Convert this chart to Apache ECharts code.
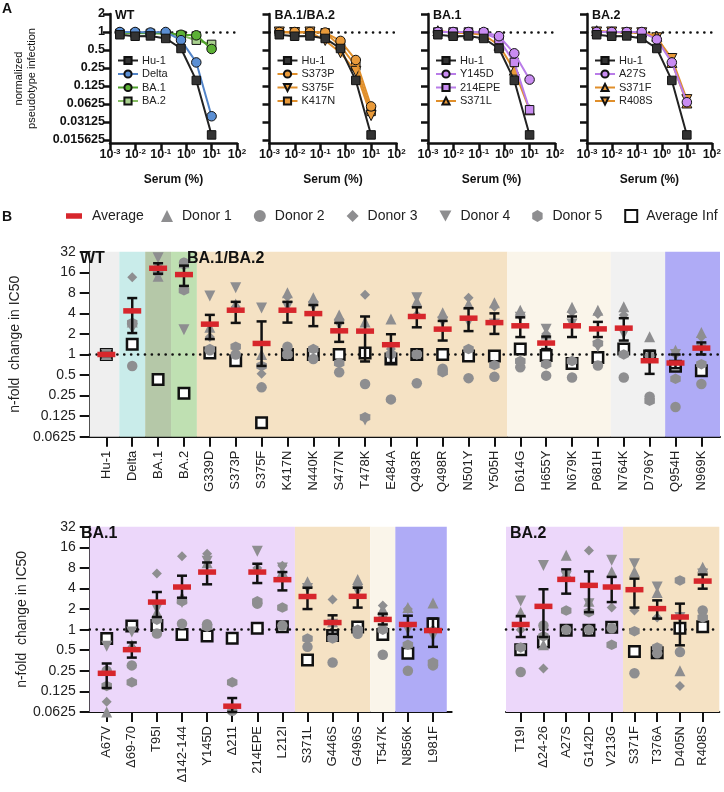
<!DOCTYPE html>
<html><head><meta charset="utf-8">
<script src="https://cdn.jsdelivr.net/npm/echarts@6/dist/echarts.min.js"></script>
<style>html,body{margin:0;padding:0;background:#fff}#c{width:724px;height:792px}</style>
</head><body><div id="c"></div>
<script>
// ---------------- Panel A data ----------------
const serum = [0.00244, 0.00977, 0.0391, 0.156, 0.625, 2.5, 10];
const aTicksX = [0.001, 0.01, 0.1, 1, 10, 100];
const aTicksY = [0.015625, 0.03125, 0.0625, 0.125, 0.25, 0.5, 1, 2];
const hu1    = [0.90, 0.85, 0.86, 0.78, 0.53, 0.155, 0.019];
const delta  = [1.00, 1.00, 0.98, 1.00, 0.73, 0.31, 0.039];
const ba1    = [0.98, 0.97, 0.96, 0.96, 0.90, 0.88, 0.52];
const ba2    = [0.95, 0.95, 0.95, 0.93, 0.88, 0.73, 0.62];
const s373p  = [1.00, 1.00, 1.00, 0.98, 0.71, 0.34, 0.057];
const s375f  = [1.00, 0.98, 1.00, 0.72, 0.45, 0.22, 0.040];
const k417n  = [1.00, 0.97, 1.00, 0.97, 0.58, 0.27, 0.047];
const y145d  = [1.00, 1.00, 1.00, 1.00, 0.85, 0.44, 0.16];
const epe214 = [1.00, 1.00, 1.00, 0.97, 0.75, 0.31, 0.050];
const s371l  = [1.05, 0.97, 0.95, 0.90, 0.60, 0.23, 0.050];
const a27s   = [1.00, 1.00, 1.00, 1.00, 0.75, 0.31, 0.067];
const s371f  = [1.05, 1.00, 1.00, 1.00, 0.85, 0.31, 0.065];
const r408s  = [1.00, 1.00, 0.97, 0.97, 0.80, 0.36, 0.074];
const aTitles = ['WT', 'BA.1/BA.2', 'BA.1', 'BA.2'];
const aNames = [['Hu-1','Delta','BA.1','BA.2'], ['Hu-1','S373P','S375F','K417N'], ['Hu-1','Y145D','214EPE','S371L'], ['Hu-1','A27S','S371F','R408S']];
const aValues = [[hu1, delta, ba1, ba2], [hu1, s373p, s375f, k417n], [hu1, y145d, epe214, s371l], [hu1, a27s, s371f, r408s]];

// ---------------- Panel B data ----------------
const bTicksY = [0.0625, 0.125, 0.25, 0.5, 1, 2, 4, 8, 16, 32];
const catsTop = ['Hu-1','Delta','BA.1','BA.2','G339D','S373P','S375F','K417N','N440K','S477N','T478K','E484A','Q493R','Q498R','N501Y','Y505H','D614G','H655Y','N679K','P681H','N764K','D796Y','Q954H','N969K'];
const avgTop   = [1, 4.35, 18.3, 14.8, 2.78, 4.45, 1.45, 4.45, 3.97, 2.22, 2.2, 1.39, 3.6, 2.35, 3.4, 2.93, 2.63, 1.47, 2.63, 2.37, 2.43, 0.81, 0.75, 1.24];
const errLoTop = [0.95, 2.06, 15.2, 10.1, 1.68, 2.9, 0.68, 2.93, 2.6, 1.53, 0.79, 0.75, 2.5, 1.6, 2.2, 2.0, 1.8, 1.2, 1.8, 1.8, 1.6, 0.52, 0.63, 1.0];
const errHiTop = [1.05, 6.7, 21.7, 20, 3.8, 5.9, 3.05, 5.9, 5.3, 2.9, 3.6, 1.98, 4.9, 3.1, 4.76, 4.0, 3.5, 1.83, 3.6, 3.0, 3.4, 1.13, 1.0, 1.5];
const donor1Top = [1, 3.0, 14, 22, 2.5, 5.5, 1.0, 8.0, 6.8, 3.8, 3.0, 3.3, 6.0, 4.1, 5.5, 5.7, 4.45, 2.0, 4.9, 4.45, 5.0, 1.82, 1.15, 2.1];
const donor2Top = [1, 0.68, 18, 22, 1.15, 1.0, 0.33, 1.3, 0.86, 0.55, 0.37, 0.22, 0.38, 0.62, 0.45, 0.47, 0.65, 0.49, 0.46, 0.69, 0.46, 0.24, 0.17, 0.37];
const donor3Top = [1, 13.5, 17, 20, 1.8, 5.0, 0.52, 7.0, 6.0, 3.3, 7.5, 1.2, 3.8, 3.5, 6.8, 5.0, 3.8, 2.0, 4.2, 3.9, 3.8, 1.0, 1.0, 1.8];
const donor4Top = [1, 2.4, 26, 2.3, 7.2, 9.5, 4.8, 5.0, 5.0, 2.7, 0.11, 1.2, 6.8, 3.0, 3.0, 2.8, 3.5, 2.35, 2.8, 1.3, 2.0, 0.8, 1.0, 1.2];
const donor5Top = [1, 2.9, 16, 8.7, 1.2, 1.3, 0.68, 1.0, 1.2, 0.75, 0.12, 1.0, 1.0, 0.55, 1.2, 0.7, 0.8, 0.72, 0.8, 1.45, 1.0, 0.21, 0.44, 0.72];
const infTop    = [1, 1.41, 0.43, 0.27, 1.05, 0.81, 0.1, 1.0, 1.0, 1.0, 1.05, 0.86, 1.0, 1.0, 0.95, 0.95, 1.2, 0.97, 0.74, 0.9, 1.2, 0.95, 0.67, 0.58];

const catsBL = ['A67V','\u039469-70','T95I','\u0394142-144','Y145D','\u0394211','214EPE','L212I','S371L','G446S','G496S','T547K','N856K','L981F'];
const avgBL   = [0.23, 0.51, 2.53, 4.2, 6.95, 0.076, 6.95, 5.38, 3.05, 1.27, 3.07, 1.41, 1.19, 0.97];
const errLoBL = [0.14, 0.39, 1.53, 2.93, 4.6, 0.0625, 4.8, 3.75, 2.0, 0.87, 2.1, 1.19, 0.78, 0.56];
const errHiBL = [0.32, 0.65, 3.55, 6.15, 9.6, 0.1, 9.2, 6.95, 4.1, 1.62, 4.1, 1.71, 1.6, 1.45];
const donor1BL = [0.0625, 0.6, 1.8, 3.0, 9.5, 0.055, 8.0, 7.0, 5.0, 1.3, 5.4, 2.0, 2.1, 2.45];
const donor2BL = [0.25, 0.3, 0.88, 1.22, 1.2, 0.065, 2.4, 1.15, 0.56, 0.33, 0.87, 0.43, 0.25, 0.3];
const donor3BL = [0.088, 0.55, 6.6, 11.8, 12.9, 0.05, 8.0, 8.6, 4.5, 2.75, 4.5, 2.26, 2.0, 1.0];
const donor4BL = [0.57, 0.92, 2.0, 2.5, 10, 0.05, 14, 8.0, 4.0, 1.2, 3.6, 1.4, 1.0, 0.8];
const donor5BL = [0.15, 0.17, 1.4, 2.6, 1.1, 0.17, 2.6, 2.1, 0.74, 0.74, 1.0, 1.0, 0.6, 0.33];
const infBL    = [0.74, 1.13, 1.15, 0.85, 0.81, 0.75, 1.05, 1.1, 0.36, 0.82, 1.09, 0.85, 0.45, 1.22];

const catsBR = ['T19I','\u039424-26','A27S','G142D','V213G','S371F','T376A','D405N','R408S'];
const avgBR   = [1.19, 2.19, 5.43, 4.44, 4.2, 3.84, 2.03, 1.53, 5.13];
const errLoBR = [0.78, 0.78, 3.36, 1.8, 2.53, 2.1, 1.45, 0.59, 3.97];
const errHiBR = [1.58, 3.9, 7.6, 7.1, 5.9, 5.57, 2.68, 2.4, 6.4];
const donor1BR = [1.8, 0.6, 12.2, 2.6, 7.0, 7.0, 3.5, 0.25, 8.2];
const donor2BR = [0.24, 1.15, 1.0, 1.0, 1.05, 0.23, 0.45, 0.47, 1.9];
const donor3BR = [1.0, 0.27, 6.0, 14.4, 2.1, 1.9, 1.5, 0.15, 7.5];
const donor4BR = [2.62, 8.7, 6.0, 2.4, 10.3, 9.2, 4.2, 1.5, 6.5];
const donor5BR = [0.55, 0.8, 1.9, 1.8, 0.6, 0.95, 0.55, 5.25, 1.5];
const infBR    = [0.51, 0.66, 0.98, 0.98, 1.08, 0.48, 0.46, 1.05, 1.1];

// background groups: [from, to] in category-index units
const groupsTop = [[-0.643, 0.5], [0.5, 1.5], [1.5, 2.5], [2.5, 3.5], [3.5, 15.5], [15.5, 19.5], [19.5, 21.6], [21.6, 23.72]];
const groupsBL  = [[-0.677, 7.5], [7.5, 10.5], [10.5, 11.5], [11.5, 13.55]];
const groupsBR  = [[-0.646, 4.5], [4.5, 8.73]];
const donorNames = ['Donor 1','Donor 2','Donor 3','Donor 4','Donor 5'];

// ---------------- styling ----------------
const FONT = '"Liberation Sans", Arial, Helvetica, sans-serif';
const INK = '#111';
const DOWN = 'path://M0,0L10,0L5,9Z';
const HEX = 'path://M5,0L9.33,2.5L9.33,7.5L5,10L0.67,7.5L0.67,2.5Z';
const ORG = {fill:'#e99a3a', line:'#e08f2b'}, PUR = {fill:'#c98cf2', line:'#b97ce8'};
const styleA = {
  'Hu-1':  {sym:'rect', fill:'#333333', line:'#222222', size:8.5},
  'Delta': {sym:'circle', fill:'#5b8fd4', line:'#5284c8', size:9.5},
  'BA.1':  {sym:'circle', fill:'#5cb135', line:'#4ea02b', size:9.5},
  'BA.2':  {sym:'rect', fill:'#a9d18e', line:'#86bd63', size:8.5},
  'S373P': {sym:'circle', ...ORG, size:9.5},
  'S375F': {sym:DOWN, ...ORG, size:10},
  'K417N': {sym:'rect', ...ORG, size:8.5},
  'Y145D': {sym:'circle', ...PUR, size:9.5},
  '214EPE':{sym:'rect', ...PUR, size:8.5},
  'S371L': {sym:'triangle', ...ORG, size:10},
  'A27S':  {sym:'circle', ...PUR, size:9.5},
  'S371F': {sym:'triangle', ...ORG, size:10},
  'R408S': {sym:DOWN, ...ORG, size:10}
};
const donorSym = ['triangle', 'circle', 'diamond', DOWN, HEX];
const donorSize = [11, 10.5, 10, 11, 10.5];
const GRAY = '#8e8e90';
const aLefts = [110, 269.5, 428, 587];
const DOTS = {type: [0.1, 6.8], width: 2.6, color: INK, cap: 'round'};

const grids = [], xAxes = [], yAxes = [], series = [], legends = [], titles = [];

// ---------------- Panel A build ----------------
aTitles.forEach((t, k) => {
  grids.push({left: aLefts[k], top: 14, width: 127, height: 129});
  xAxes.push({
    gridIndex: k, type: 'log', logBase: 10, min: 0.001, max: 100,
    axisLine: {onZero: false, lineStyle: {color: INK, width: 2.5}},
    axisTick: {customValues: aTicksX, length: 7, lineStyle: {color: INK, width: 2.5}},
    axisLabel: {customValues: aTicksX, margin: 5, color: INK,
      formatter: v => '{b|10}{s|' + Math.round(Math.log10(v)) + '}',
      rich: {b: {fontSize: 12.5, fontWeight: 'bold', color: INK, lineHeight: 14, fontFamily: FONT},
             s: {fontSize: 8, fontWeight: 'bold', color: INK, lineHeight: 8, verticalAlign: 'top', fontFamily: FONT}}},
    splitLine: {show: false},
    name: 'Serum (%)', nameLocation: 'middle', nameGap: 31,
    nameTextStyle: {fontSize: 12, fontWeight: 'bold', color: INK, fontFamily: FONT}
  });
  yAxes.push({
    gridIndex: k, type: 'log', logBase: 2, min: 0.01392, max: 2,
    axisLine: {show: true, onZero: false, lineStyle: {color: INK, width: 2.5}},
    axisTick: {show: true, customValues: aTicksY, length: 7, lineStyle: {color: INK, width: 2.5}},
    axisLabel: {show: k === 0, customValues: aTicksY, margin: 5, fontSize: 12.5, fontWeight: 'bold', color: INK,
      formatter: v => String(+(+v).toPrecision(6))},
    splitLine: {show: false},
    name: k === 0 ? 'normalized\npseudotype infection' : '', nameLocation: 'middle', nameGap: 72,
    nameTextStyle: {fontSize: 11, color: INK, lineHeight: 13, fontFamily: FONT}
  });
  aNames[k].forEach((nm, j) => {
    const st = styleA[nm];
    const s = {
      type: 'line', name: nm, xAxisIndex: k, yAxisIndex: k,
      data: serum.map((x, i) => [x, aValues[k][j][i]]),
      symbol: st.sym, symbolSize: st.size, showSymbol: true,
      lineStyle: {color: st.line, width: 2},
      itemStyle: {color: st.fill, borderColor: INK, borderWidth: 1},
      z: nm === 'Hu-1' ? 6 : 3 + (3 - j) * 0.1,
      silent: true
    };
    if (j === 0) {
      s.markLine = {silent: true, symbol: 'none', z: 1, label: {show: false},
        lineStyle: DOTS, data: [{yAxis: 1}]};
    }
    series.push(s);
  });
  legends.push({
    data: aNames[k], orient: 'vertical', left: aLefts[k] + 7, top: 55, padding: 0,
    itemWidth: 20, itemHeight: 9, itemGap: 2.5, selectedMode: false,
    textStyle: {fontSize: 11, color: '#222', fontFamily: FONT, padding: [0, 0, 0, -1]}
  });
  titles.push({text: t, left: aLefts[k] + 5, top: 9, padding: 0,
    textStyle: {fontSize: 12.5, fontWeight: 'bold', color: INK, fontFamily: FONT}});
});

// ---------------- Panel B build ----------------
const bandColorsTop = ['#efefef', '#c9ecea', '#b5c8a8', '#bfe0b2', '#f5e2c4', '#faf5ea', '#f1f1f1', '#afabf6'];
const bandColorsBL = ['#ecd7fa', '#f5e2c4', '#faf5ea', '#afabf6'];
const bandColorsBR = ['#ecd7fa', '#f5e2c4'];
const bPanels = [
  {cats: catsTop, avg: avgTop, lo: errLoTop, hi: errHiTop, inf: infTop,
   donors: [donor1Top, donor2Top, donor3Top, donor4Top, donor5Top], groups: groupsTop, colors: bandColorsTop,
   grid: {left: 76, top: 251.7, width: 644, height: 185}, xMin: -0.643, xMax: 23.72, showY: true},
  {cats: catsBL, avg: avgBL, lo: errLoBL, hi: errHiBL, inf: infBL,
   donors: [donor1BL, donor2BL, donor3BL, donor4BL, donor5BL], groups: groupsBL, colors: bandColorsBL,
   grid: {left: 76.7, top: 526.7, width: 375, height: 185.3}, xMin: -0.677, xMax: 13.746, showY: true},
  {cats: catsBR, avg: avgBR, lo: errLoBR, hi: errHiBR, inf: infBR,
   donors: [donor1BR, donor2BR, donor3BR, donor4BR, donor5BR], groups: groupsBR, colors: bandColorsBR,
   grid: {left: 506, top: 526.7, width: 213.3, height: 185.3}, xMin: -0.646, xMax: 8.73, showY: false}
];

function renderErr(params, api) {
  const x = api.value(0), lo = api.value(1), hi = api.value(2);
  const p1 = api.coord([x, hi]), p2 = api.coord([x, lo]);
  const w = 5;
  const style = {stroke: INK, lineWidth: 2.5, fill: null};
  return {type: 'group', children: [
    {type: 'line', shape: {x1: p1[0], y1: p1[1], x2: p2[0], y2: p2[1]}, style: style},
    {type: 'line', shape: {x1: p1[0] - w, y1: p1[1], x2: p1[0] + w, y2: p1[1]}, style: style},
    {type: 'line', shape: {x1: p2[0] - w, y1: p2[1], x2: p2[0] + w, y2: p2[1]}, style: style}
  ]};
}

bPanels.forEach((p, n) => {
  const k = 4 + n;
  grids.push(p.grid);
  const idx = p.cats.map((c, i) => i);
  xAxes.push({
    gridIndex: k, type: 'value', min: p.xMin, max: p.xMax,
    axisLine: {onZero: false, lineStyle: {color: INK, width: 2}},
    axisTick: {customValues: idx, length: 10, lineStyle: {color: INK, width: 2}},
    axisLabel: {customValues: idx, rotate: 90, margin: 14, fontSize: 13, color: '#222', fontFamily: FONT,
      formatter: v => p.cats[Math.round(v)]},
    splitLine: {show: false}
  });
  yAxes.push({
    gridIndex: k, type: 'log', logBase: 2, min: 0.0625, max: 32,
    axisLine: {show: p.showY, onZero: false, lineStyle: {color: INK, width: 2}},
    axisTick: {show: p.showY, customValues: bTicksY, length: 10, lineStyle: {color: INK, width: 2}},
    axisLabel: {show: p.showY, customValues: bTicksY, margin: 14, fontSize: 14, color: '#222', fontFamily: FONT,
      formatter: v => String(+(+v).toPrecision(6))},
    splitLine: {show: false},
    name: p.showY ? 'n-fold  change in IC50' : '', nameLocation: 'middle', nameGap: 50,
    nameTextStyle: {fontSize: 14, color: '#222', fontFamily: FONT}
  });
  // average infectivity squares (carry backgrounds + dotted reference line)
  series.push({
    type: 'scatter', name: 'Average Inf', xAxisIndex: k, yAxisIndex: k, z: 3, silent: true,
    data: p.inf.map((v, i) => [i, v]),
    symbol: 'rect', symbolSize: 10.5,
    itemStyle: {color: '#ffffff', borderColor: INK, borderWidth: 2.5, opacity: 1},
    markArea: {silent: true, z: 1, data: p.groups.map((g, j) => [
      {xAxis: g[0], itemStyle: {color: p.colors[j], opacity: 1}}, {xAxis: g[1]}])},
    markLine: {silent: true, symbol: 'none', z: 2, label: {show: false},
      lineStyle: DOTS, data: [{yAxis: 1}]}
  });
  p.donors.forEach((d, j) => {
    series.push({
      type: 'scatter', name: donorNames[j], xAxisIndex: k, yAxisIndex: k, z: 4, silent: true, clip: true,
      data: d.map((v, i) => [i, v]),
      symbol: donorSym[j], symbolSize: donorSize[j],
      itemStyle: {color: GRAY, opacity: 1}
    });
  });
  series.push({
    type: 'custom', name: 'SEM', xAxisIndex: k, yAxisIndex: k, z: 5, silent: true,
    renderItem: renderErr, encode: {x: 0, y: [1, 2]},
    data: p.avg.map((v, i) => [i, p.lo[i], p.hi[i]])
  });
  series.push({
    type: 'scatter', name: 'Average', xAxisIndex: k, yAxisIndex: k, z: 6, silent: true,
    data: p.avg.map((v, i) => [i, v]),
    symbol: 'rect', symbolSize: [18, 5.5],
    itemStyle: {color: '#d7262c', opacity: 1}
  });
});

// legends for panel B
legends.push({
  data: ['Average'], left: 66, top: 209, padding: 0, itemWidth: 16, itemHeight: 5.5, selectedMode: false,
  textStyle: {fontSize: 14, color: '#222', fontFamily: FONT, padding: [0, 0, 0, 5]}
});
legends.push({
  data: [
    {name: 'Donor 1', icon: 'triangle'},
    {name: 'Donor 2', icon: 'circle'},
    {name: 'Donor 3', icon: 'path://M5,0L10,5L5,10L0,5Z'},
    {name: 'Donor 4', icon: DOWN},
    {name: 'Donor 5', icon: HEX},
    {name: 'Average Inf', icon: 'rect'}
  ],
  left: 161, top: 209, padding: 0, itemWidth: 12, itemHeight: 12, itemGap: 22, selectedMode: false,
  textStyle: {fontSize: 14, color: '#222', fontFamily: FONT, padding: [0, 0, 0, 4]}
});

// panel letters and group labels
titles.push({text: 'A', left: 2, top: 2, padding: 0, textStyle: {fontSize: 14, fontWeight: 'bold', color: INK, fontFamily: FONT}});
titles.push({text: 'B', left: 2, top: 210, padding: 0, textStyle: {fontSize: 14, fontWeight: 'bold', color: INK, fontFamily: FONT}});
const bandLabelStyle = {fontSize: 16, fontWeight: 'bold', color: INK, fontFamily: FONT};
titles.push({text: 'WT', left: 80, top: 251, padding: 0, textStyle: bandLabelStyle});
titles.push({text: 'BA.1/BA.2', left: 187, top: 251, padding: 0, textStyle: bandLabelStyle});
titles.push({text: 'BA.1', left: 81, top: 526, padding: 0, textStyle: bandLabelStyle});
titles.push({text: 'BA.2', left: 510, top: 526, padding: 0, textStyle: bandLabelStyle});

const chart = echarts.init(document.getElementById('c'), null, {renderer: 'canvas', width: 724, height: 792});
chart.setOption({
  animation: false,
  backgroundColor: '#ffffff',
  textStyle: {fontFamily: FONT},
  title: titles,
  legend: legends,
  grid: grids,
  xAxis: xAxes,
  yAxis: yAxes,
  series: series
});
</script>
</body></html>
